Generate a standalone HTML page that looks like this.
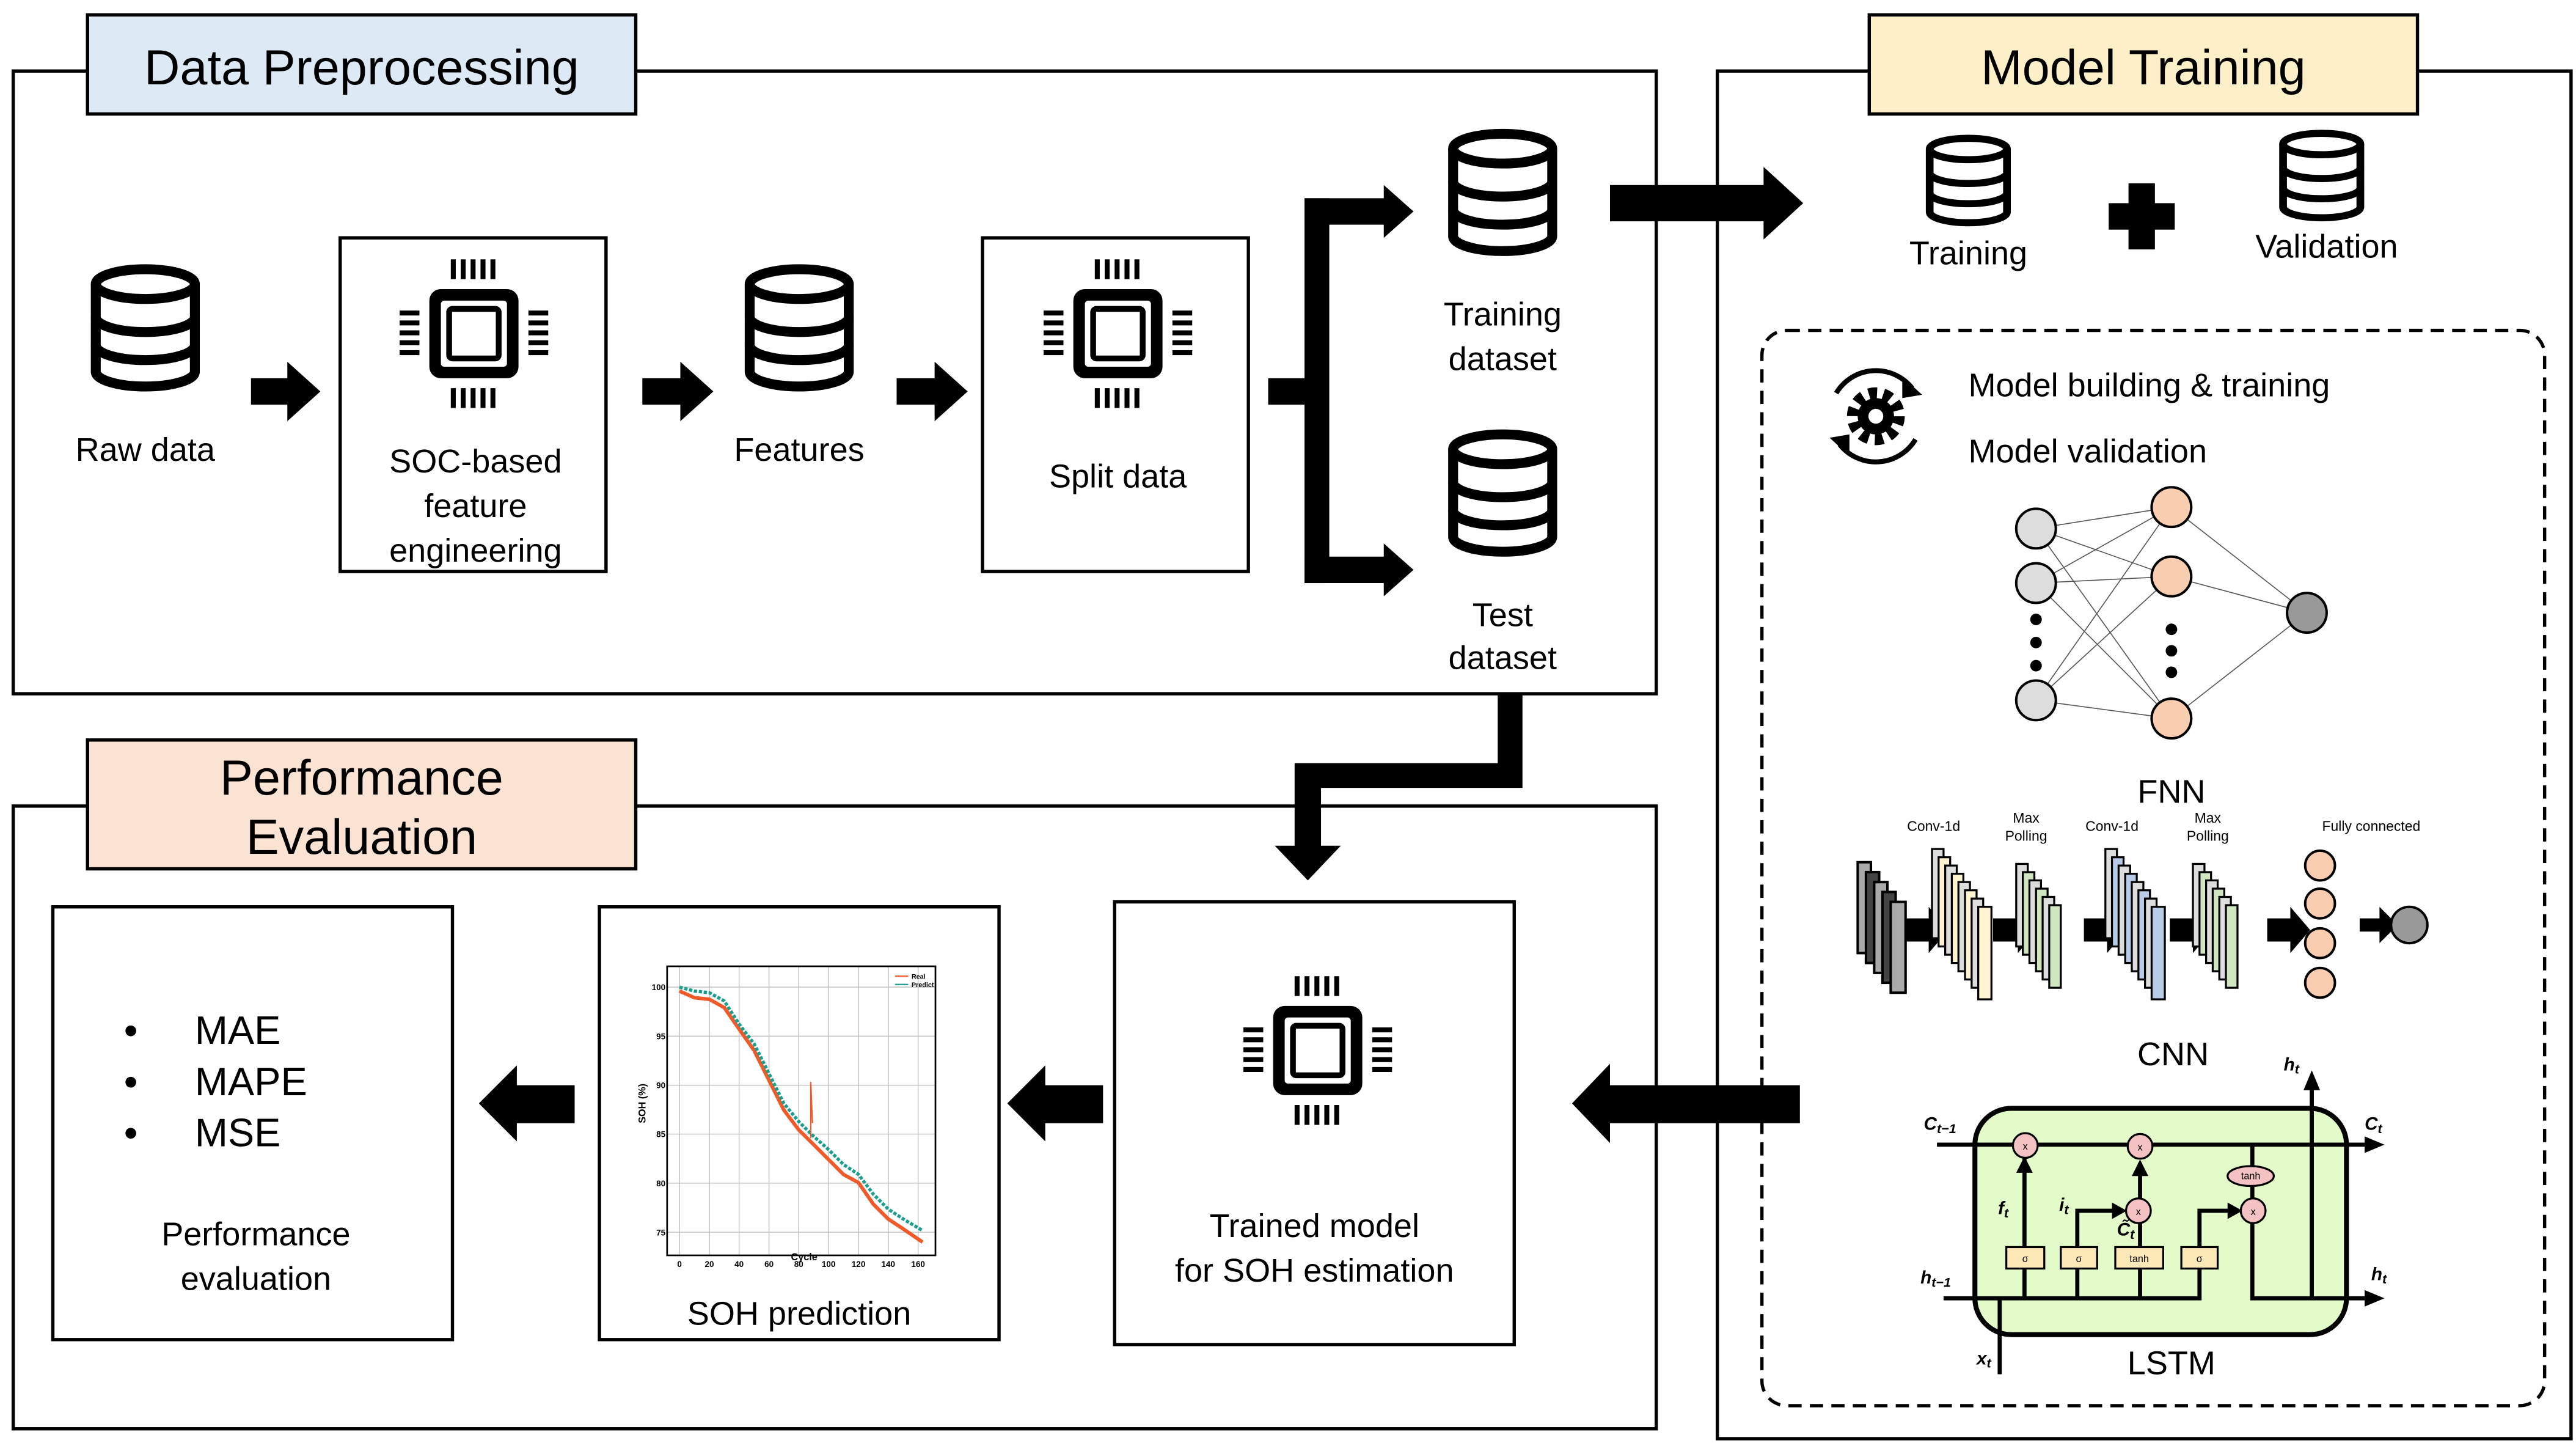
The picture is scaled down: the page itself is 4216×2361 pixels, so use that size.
<!DOCTYPE html>
<html><head><meta charset="utf-8"><style>html,body{margin:0;padding:0;background:#fff}svg{display:block}text{font-family:"Liberation Sans",sans-serif}</style></head><body>
<svg width="4216" height="2361" viewBox="0 0 1560 873.6" xmlns="http://www.w3.org/2000/svg">
<defs>
<g id="db"><path d="M-30,10 V63 A30,9 0 0 0 30,63 V10" fill="#fff" stroke="#000" stroke-width="6"/><ellipse cx="0" cy="10" rx="30" ry="9" fill="#fff" stroke="#000" stroke-width="6"/><path d="M-30,30 A30,9 0 0 0 30,30 M-30,47 A30,9 0 0 0 30,47" fill="none" stroke="#000" stroke-width="6"/></g>
<g id="chip"><rect x="-27" y="-27" width="54" height="54" rx="7" fill="#000"/><rect x="-20" y="-20" width="40" height="40" rx="2" fill="#fff"/><rect x="-15" y="-15" width="30" height="30" rx="2" fill="none" stroke="#000" stroke-width="3.5"/>
<g fill="#000"><rect x="-14" y="-45" width="3" height="12"/><rect x="-8" y="-45" width="3" height="12"/><rect x="-2" y="-45" width="3" height="12"/><rect x="4" y="-45" width="3" height="12"/><rect x="10" y="-45" width="3" height="12"/>
<rect x="-14" y="33" width="3" height="12"/><rect x="-8" y="33" width="3" height="12"/><rect x="-2" y="33" width="3" height="12"/><rect x="4" y="33" width="3" height="12"/><rect x="10" y="33" width="3" height="12"/>
<rect y="-14" x="-45" height="3" width="12"/><rect y="-8" x="-45" height="3" width="12"/><rect y="-2" x="-45" height="3" width="12"/><rect y="4" x="-45" height="3" width="12"/><rect y="10" x="-45" height="3" width="12"/>
<rect y="-14" x="33" height="3" width="12"/><rect y="-8" x="33" height="3" width="12"/><rect y="-2" x="33" height="3" width="12"/><rect y="4" x="33" height="3" width="12"/><rect y="10" x="33" height="3" width="12"/></g></g>
</defs>
<g fill="none" stroke="#000" stroke-width="2">
<rect x="8" y="43" width="995" height="377"/>
<rect x="1040" y="43" width="517" height="828"/>
<rect x="8" y="488" width="995" height="377"/>
<rect x="206" y="144" width="161" height="202"/>
<rect x="595" y="144" width="161" height="202"/>
<rect x="675" y="546" width="242" height="268"/>
<rect x="32" y="549" width="242" height="262"/>
<rect x="363" y="549" width="242" height="262"/>
<rect x="1067" y="200" width="474" height="651" rx="15" stroke-dasharray="8 5"/>
</g>
<rect x="53" y="9" width="332" height="60" fill="#dde9f5" stroke="#000" stroke-width="2"/>
<rect x="1132" y="9" width="332" height="60" fill="#fdf0c8" stroke="#000" stroke-width="2"/>
<rect x="53" y="448" width="332" height="78" fill="#fbe3d4" stroke="#000" stroke-width="2"/>
<g font-size="30" text-anchor="middle"><text x="219" y="51">Data Preprocessing</text><text x="1298" y="51">Model Training</text><text x="219" y="481">Performance</text><text x="219" y="517">Evaluation</text></g>

<use href="#db" x="88" y="162"/><use href="#db" x="484" y="162"/><use href="#db" x="910" y="80"/><use href="#db" x="910" y="262"/>
<use href="#db" transform="translate(1192,83) scale(0.78,0.72)"/><use href="#db" transform="translate(1406,80) scale(0.78,0.72)"/>
<use href="#chip" x="287" y="202"/><use href="#chip" x="677" y="202"/><use href="#chip" x="798" y="636"/>

<g fill="#000">
<polygon points="152,229 174,229 174,219 194,237 174,255 174,245 152,245"/>
<polygon points="389,229 412,229 412,219 432,237 412,255 412,245 389,245"/>
<polygon points="543,229 566,229 566,219 586,237 566,255 566,245 543,245"/>
<rect x="768" y="229" width="30" height="16"/><rect x="790" y="120" width="15" height="233"/>
<polygon points="790,120 838,120 838,112 856,128 838,144 838,136 790,136"/>
<polygon points="790,337 838,337 838,329 856,345 838,361 838,353 790,353"/>
<polygon points="975,112 1068,112 1068,101 1092,123 1068,145 1068,134 975,134"/>
<polygon points="907,420 922,420 922,477 800,477 800,512 812,512 792,533 772,512 784,512 784,462 907,462"/>
<polygon points="1090,657 975,657 975,644 952,668 975,692 975,680 1090,680"/>
<polygon points="668,657 633,657 633,645 610,668 633,691 633,680 668,680"/>
<polygon points="348,657 313,657 313,645 290,668 313,691 313,680 348,680"/>
<rect x="1277" y="123" width="40" height="16"/><rect x="1289" y="111" width="16" height="40"/>
</g>

<g font-size="20" text-anchor="middle">
<text x="88" y="279">Raw data</text>
<text x="288" y="286">SOC-based</text><text x="288" y="313">feature</text><text x="288" y="340">engineering</text>
<text x="484" y="279">Features</text>
<text x="677" y="295">Split data</text>
<text x="910" y="197">Training</text><text x="910" y="224">dataset</text>
<text x="910" y="379">Test</text><text x="910" y="405">dataset</text>
<text x="1192" y="160">Training</text><text x="1409" y="156">Validation</text>
<text x="155" y="754">Performance</text><text x="155" y="781">evaluation</text>
<text x="484" y="802">SOH prediction</text>
<text x="796" y="749">Trained model</text><text x="796" y="776">for SOH estimation</text>
<text x="1315" y="486">FNN</text><text x="1316" y="645">CNN</text><text x="1315" y="832">LSTM</text>
</g>
<g font-size="20"><text x="1192" y="240">Model building &amp; training</text><text x="1192" y="280">Model validation</text></g>
<g font-size="24"><text x="75" y="632">•</text><text x="118" y="632">MAE</text><text x="75" y="663">•</text><text x="118" y="663">MAPE</text><text x="75" y="694">•</text><text x="118" y="694">MSE</text></g>

<!-- gear -->
<g transform="translate(1136,252)">
<path d="M-24,-14 A28,28 0 0 1 22,-17" fill="none" stroke="#000" stroke-width="3"/><polygon points="16,-24 28,-13 16,-11" fill="#000"/>
<path d="M24,14 A28,28 0 0 1 -22,17" fill="none" stroke="#000" stroke-width="3"/><polygon points="-16,24 -28,13 -16,11" fill="#000"/>
<circle r="14" fill="none" stroke="#000" stroke-width="7" stroke-dasharray="5 3.8"/><circle r="11" fill="#000"/><circle r="4.5" fill="#fff"/>
</g>

<!-- FNN -->
<g stroke="#555" stroke-width="0.6">
<path d="M1233,320L1315,307M1233,320L1315,349M1233,320L1315,435M1233,353L1315,307M1233,353L1315,349M1233,353L1315,435M1233,424L1315,307M1233,424L1315,349M1233,424L1315,435M1315,307L1397,371M1315,349L1397,371M1315,435L1397,371"/>
</g>
<g stroke="#000" stroke-width="1.5">
<circle cx="1233" cy="320" r="12" fill="#ddd"/><circle cx="1233" cy="353" r="12" fill="#ddd"/><circle cx="1233" cy="424" r="12" fill="#ddd"/>
<circle cx="1315" cy="307" r="12" fill="#f9cdb0"/><circle cx="1315" cy="349" r="12" fill="#f9cdb0"/><circle cx="1315" cy="435" r="12" fill="#f9cdb0"/>
<circle cx="1397" cy="371" r="12" fill="#999"/>
</g>
<g fill="#000"><circle cx="1233" cy="375" r="3.5"/><circle cx="1233" cy="389" r="3.5"/><circle cx="1233" cy="403" r="3.5"/><circle cx="1315" cy="381" r="3.5"/><circle cx="1315" cy="394" r="3.5"/><circle cx="1315" cy="407" r="3.5"/></g>

<!-- CNN -->
<g stroke="#000" stroke-width="1.5">
<rect x="1125" y="522" width="8" height="55" fill="#aaa"/><rect x="1130" y="528" width="8" height="55" fill="#444"/><rect x="1135" y="534" width="8" height="55" fill="#aaa"/><rect x="1140" y="540" width="8" height="55" fill="#444"/><rect x="1145" y="546" width="9" height="55" fill="#aaa"/>
</g>
<g fill="#000">
<polygon points="1154,556 1168,556 1168,549 1180,563 1168,577 1168,570 1154,570"/>
<polygon points="1207,556 1222,556 1222,549 1234,563 1222,577 1222,570 1207,570"/>
<polygon points="1262,556 1276,556 1276,549 1288,563 1276,577 1276,570 1262,570"/>
<polygon points="1314,556 1328,556 1328,549 1340,563 1328,577 1328,570 1314,570"/>
<polygon points="1373,556 1387,556 1387,549 1399,563 1387,577 1387,570 1373,570"/>
<polygon points="1429,556 1441,556 1441,549 1452,560 1441,571 1441,564 1429,564"/>
</g>
<g stroke="#000" stroke-width="1.2">
<rect x="1170" y="514" width="7" height="54" fill="#ddd"/><rect x="1174" y="519" width="7" height="54" fill="#fff3d0"/><rect x="1178" y="524" width="7" height="54" fill="#ddd"/><rect x="1182" y="529" width="7" height="54" fill="#fff3d0"/><rect x="1186" y="534" width="7" height="54" fill="#ddd"/><rect x="1190" y="539" width="7" height="54" fill="#fff3d0"/><rect x="1194" y="544" width="7" height="54" fill="#ddd"/><rect x="1198" y="549" width="8" height="56" fill="#fff3d0"/>
<rect x="1221" y="523" width="7" height="50" fill="#ddd"/><rect x="1225" y="528" width="7" height="50" fill="#cfe6c0"/><rect x="1229" y="533" width="7" height="50" fill="#ddd"/><rect x="1233" y="538" width="7" height="50" fill="#cfe6c0"/><rect x="1237" y="543" width="7" height="50" fill="#ddd"/><rect x="1241" y="548" width="7" height="50" fill="#cfe6c0"/>
<rect x="1275" y="514" width="7" height="54" fill="#ddd"/><rect x="1279" y="519" width="7" height="54" fill="#b8cce8"/><rect x="1283" y="524" width="7" height="54" fill="#ddd"/><rect x="1287" y="529" width="7" height="54" fill="#b8cce8"/><rect x="1291" y="534" width="7" height="54" fill="#ddd"/><rect x="1295" y="539" width="7" height="54" fill="#b8cce8"/><rect x="1299" y="544" width="7" height="54" fill="#ddd"/><rect x="1303" y="549" width="8" height="56" fill="#b8cce8"/>
<rect x="1328" y="523" width="7" height="50" fill="#ddd"/><rect x="1332" y="528" width="7" height="50" fill="#cfe6c0"/><rect x="1336" y="533" width="7" height="50" fill="#ddd"/><rect x="1340" y="538" width="7" height="50" fill="#cfe6c0"/><rect x="1344" y="543" width="7" height="50" fill="#ddd"/><rect x="1348" y="548" width="7" height="50" fill="#cfe6c0"/>
</g>
<g stroke="#000" stroke-width="1.5"><circle cx="1405" cy="524" r="9" fill="#f9cdb0"/><circle cx="1405" cy="547" r="9" fill="#f9cdb0"/><circle cx="1405" cy="571" r="9" fill="#f9cdb0"/><circle cx="1405" cy="595" r="9" fill="#f9cdb0"/><circle cx="1459" cy="560" r="11" fill="#999"/></g>
<g font-size="8.5" text-anchor="middle"><text x="1171" y="503">Conv-1d</text><text x="1227" y="498">Max</text><text x="1227" y="509">Polling</text><text x="1279" y="503">Conv-1d</text><text x="1337" y="498">Max</text><text x="1337" y="509">Polling</text><text x="1436" y="503">Fully connected</text></g>

<!-- LSTM -->
<rect x="1196" y="671" width="225" height="137" rx="22" fill="#e2fbc9" stroke="#000" stroke-width="3"/>
<g stroke="#000" stroke-width="2.5" fill="none">
<path d="M1173,693 H1432"/><path d="M1177,786 H1332 V733 H1352"/><path d="M1364,733 V786 H1432"/><path d="M1211,832 V786"/><path d="M1400,786 V660"/>
<path d="M1226,786 V701"/><path d="M1258,786 V733 H1282"/><path d="M1296,786 V740"/><path d="M1296,726 V704"/><path d="M1364,693 V726"/>
</g>
<g fill="#000"><polygon points="1432,688 1444,693 1432,698"/><polygon points="1432,781 1444,786 1432,791"/><polygon points="1395,660 1400,648 1405,660"/>
<polygon points="1221,710 1226,700 1231,710"/><polygon points="1291,712 1296,702 1301,712"/><polygon points="1279,728 1288,733 1279,738"/><polygon points="1349,728 1358,733 1349,738"/></g>
<g stroke="#000" stroke-width="1.2"><rect x="1215" y="755" width="23" height="13" fill="#fde9b8"/><rect x="1248" y="755" width="22" height="13" fill="#fde9b8"/><rect x="1281" y="755" width="29" height="13" fill="#fde9b8"/><rect x="1321" y="755" width="22" height="13" fill="#fde9b8"/>
<ellipse cx="1363" cy="712" rx="14" ry="6" fill="#f4c2c2"/>
<circle cx="1226.5" cy="693.5" r="7.5" fill="#f4c2c2"/><circle cx="1296" cy="694" r="7.5" fill="#f4c2c2"/><circle cx="1295" cy="733" r="7.5" fill="#f4c2c2"/><circle cx="1364.5" cy="733" r="7.5" fill="#f4c2c2"/></g>
<g font-size="6" text-anchor="middle"><text x="1226.5" y="696">x</text><text x="1296" y="696.5">x</text><text x="1295" y="735.5">x</text><text x="1364.5" y="735.5">x</text><text x="1363" y="714">tanh</text><text x="1226.5" y="764">σ</text><text x="1259" y="764">σ</text><text x="1295.5" y="764">tanh</text><text x="1332" y="764">σ</text></g>
<g font-family="Liberation Serif,serif" font-style="italic" font-weight="bold" font-size="11">
<text x="1165" y="684">C<tspan font-size="8" dy="2">t−1</tspan></text><text x="1432" y="684">C<tspan font-size="8" dy="2">t</tspan></text>
<text x="1383" y="648">h<tspan font-size="8" dy="2">t</tspan></text><text x="1163" y="777">h<tspan font-size="8" dy="2">t−1</tspan></text>
<text x="1436" y="775">h<tspan font-size="8" dy="2">t</tspan></text><text x="1197" y="826">x<tspan font-size="8" dy="2">t</tspan></text>
<text x="1210" y="735">f<tspan font-size="8" dy="2">t</tspan></text><text x="1247" y="733">i<tspan font-size="8" dy="2">t</tspan></text><text x="1282" y="748">C̃<tspan font-size="8" dy="2">t</tspan></text>
</g>

<!-- chart -->
<g stroke="#bbb" stroke-width="0.5">
<path d="M411.5,585V760M429.6,585V760M447.6,585V760M465.7,585V760M483.7,585V760M501.8,585V760M519.9,585V760M537.9,585V760M556,585V760"/>
<path d="M404,597.6H566.5M404,627.3H566.5M404,657H566.5M404,686.6H566.5M404,716.3H566.5M404,746H566.5"/>
</g>
<rect x="404" y="585" width="162.5" height="175" fill="none" stroke="#000" stroke-width="1"/>
<polyline fill="none" stroke="#f05a28" stroke-width="2.2" points="411.5,600 420.5,604 429.6,605 438.6,610 447.6,623 456.7,636 465.7,654 474.7,672 483.7,684 492.8,693 501.8,702 510.8,711 519.9,716 528.9,729 537.9,738 547,744 558.7,752"/>
<polyline fill="none" stroke="#1a9e8f" stroke-width="2" stroke-dasharray="2 1" points="411.5,597.6 420.5,600 429.6,601 438.6,606 447.6,620 456.7,632 465.7,650 474.7,668 483.7,679 492.8,688 501.8,696 510.8,705 519.9,711 528.9,723 537.9,732 547,738 558.7,745"/>
<polyline fill="none" stroke="#f05a28" stroke-width="0.8" points="491,689 491,655 492,680"/>
<g font-size="5" font-weight="bold" text-anchor="middle"><text x="411.5" y="767">0</text><text x="429.6" y="767">20</text><text x="447.6" y="767">40</text><text x="465.7" y="767">60</text><text x="483.7" y="767">80</text><text x="501.8" y="767">100</text><text x="519.9" y="767">120</text><text x="537.9" y="767">140</text><text x="556" y="767">160</text><text x="487" y="763" font-size="6">Cycle</text></g>
<g font-size="5" font-weight="bold" text-anchor="end"><text x="403" y="599.5">100</text><text x="403" y="629.2">95</text><text x="403" y="658.9">90</text><text x="403" y="688.5">85</text><text x="403" y="718.2">80</text><text x="403" y="747.9">75</text></g>
<text x="391" y="668" font-size="6" font-weight="bold" text-anchor="middle" transform="rotate(-90 391 668)">SOH (%)</text>
<g font-size="4" font-weight="bold"><path d="M542,591H550" stroke="#f05a28" stroke-width="0.8"/><path d="M542,596H550" stroke="#1a9e8f" stroke-width="0.8"/><text x="552" y="592.5">Real</text><text x="552" y="597.5">Predict</text></g>
</svg>
</body></html>
